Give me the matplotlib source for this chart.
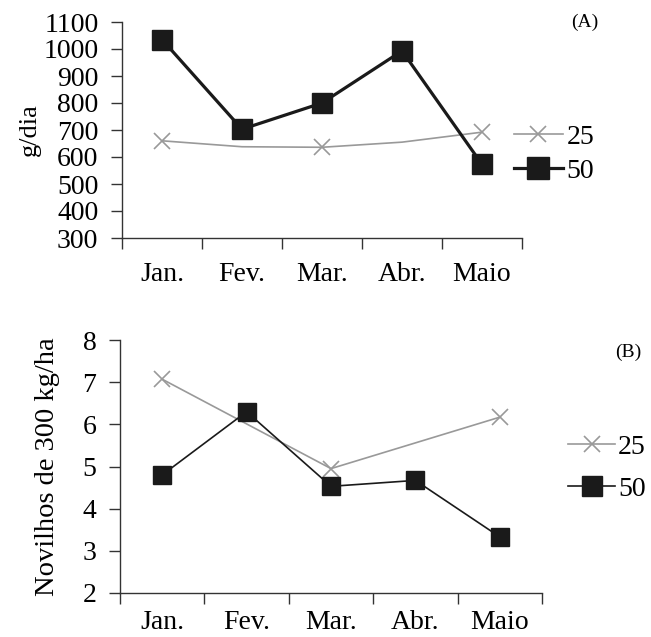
import matplotlib
matplotlib.use("Agg")
import matplotlib.pyplot as plt
import numpy as np

months = ["Jan.", "Fev.", "Mar.", "Abr.", "Maio"]

# Panel A (g/dia)
a_25 = [660, 638, 636, 655, 692]
a_50 = [1035, 703, 800, 993, 573]
a_25_markers = [0, 2, 4]

# Panel B (Novilhos de 300 kg/ha)
b_25_idx = [0, 2, 4]
b_25 = [7.07, 4.95, 6.17]
b_50 = [4.8, 6.3, 4.53, 4.67, 3.33]

plt.rcParams['font.family'] = ['Liberation Serif', 'DejaVu Serif']

W, H = 651, 637
fig = plt.figure(figsize=(W / 100, H / 100), dpi=100)

def px_axes(left, top, right, bottom):
    return fig.add_axes([left / W, 1 - bottom / H, (right - left) / W, (bottom - top) / H])

gray = "#999999"
dark = "#1a1a1a"

def style(ax, ylim, yticks, xpad):
    n = len(months)
    x = np.arange(n)
    ax.set_xlim(-0.5, n - 0.5)
    ax.set_ylim(*ylim)
    ax.set_yticks(yticks)
    ax.set_yticklabels([str(t) for t in yticks])
    ax.set_xticks(x)
    ax.set_xticklabels(months)
    ax.set_xticks(np.arange(n + 1) - 0.5, minor=True)
    ax.tick_params(axis="x", which="major", length=0, pad=xpad, labelsize=20)
    ax.tick_params(axis="x", which="minor", length=8, width=1, color="#333333", direction="out")
    ax.tick_params(axis="y", length=8, width=1, color="#333333", direction="out", labelsize=20, pad=9)
    for s in ["top", "right"]:
        ax.spines[s].set_visible(False)
    for s in ["left", "bottom"]:
        ax.spines[s].set_color("#333333")
        ax.spines[s].set_linewidth(1)

# Panel A
axA = px_axes(122, 22, 522, 238)
xA = np.arange(len(months))
l25a, = axA.plot(xA, a_25, color=gray, lw=1.2, marker="x", markersize=11, markeredgewidth=1.2,
                 markevery=a_25_markers, label="25", zorder=2)
l50a, = axA.plot(xA, a_50, color=dark, lw=2.3, marker="s", markersize=14, markerfacecolor=dark,
                 markeredgecolor=dark, label="50", zorder=3)
style(axA, (300, 1100), list(range(300, 1101, 100)), 17)
axA.set_ylabel("g/dia", fontsize=19, labelpad=2)
fig.text(585 / W, 1 - 22 / H, "(A)", fontsize=14, ha="center", va="center")
axA.legend(handles=[l25a, l50a], loc="center left", bbox_to_anchor=(514 / W, 1 - 154 / H),
           bbox_transform=fig.transFigure, frameon=False, fontsize=20, handlelength=1.75,
           handletextpad=0.15, labelspacing=0.3, borderaxespad=0, borderpad=0, markerscale=1.1)

# Panel B
axB = px_axes(120, 340, 542, 593)
xB = np.arange(len(months))
l25b, = axB.plot(b_25_idx, b_25, color=gray, lw=1.2, marker="x", markersize=11, markeredgewidth=1.2,
                 label="25", zorder=2)
l50b, = axB.plot(xB, b_50, color=dark, lw=1.2, marker="s", markersize=13.5, markerfacecolor=dark,
                 markeredgecolor=dark, label="50", zorder=3)
style(axB, (2, 8), list(range(2, 9)), 12)
axB.set_ylabel("Novilhos de 300 kg/ha", fontsize=20.5, labelpad=16)
fig.text(628 / W, 1 - 352 / H, "(B)", fontsize=14, ha="center", va="center")
axB.legend(handles=[l25b, l50b], loc="center left", bbox_to_anchor=(568 / W, 1 - 468 / H),
           bbox_transform=fig.transFigure, frameon=False, fontsize=20, handlelength=1.7,
           handletextpad=0.1, labelspacing=0.6, borderaxespad=0, borderpad=0, markerscale=1.1)

fig.savefig("out.png", dpi=100)
